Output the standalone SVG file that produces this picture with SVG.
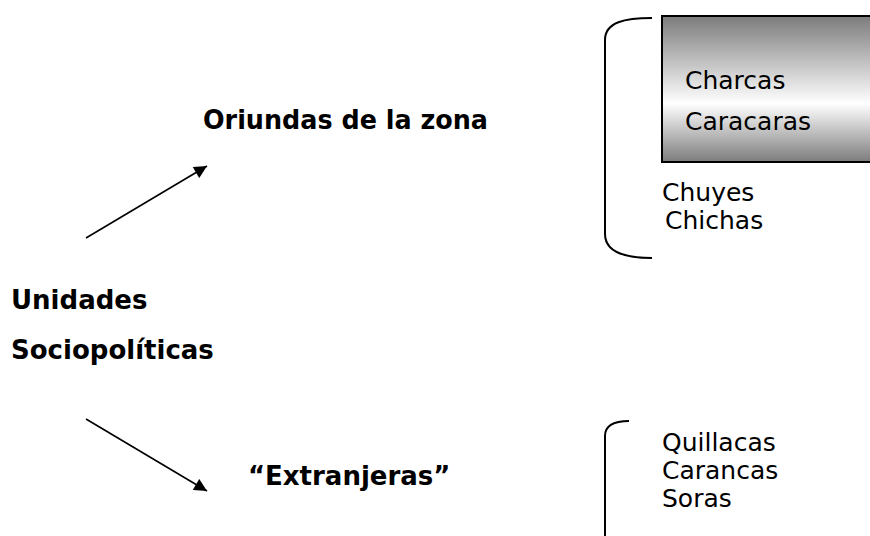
<svg xmlns="http://www.w3.org/2000/svg" width="870" height="536" viewBox="0 0 870 536">
<style>
.b{font-family:"DejaVu Sans","Liberation Sans",sans-serif;font-weight:bold;font-size:26px;fill:#000}
.r{font-family:"DejaVu Sans","Liberation Sans",sans-serif;font-size:25px;fill:#000}
.ln{stroke:#000;stroke-width:1.6;fill:none}
.br{stroke:#000;stroke-width:2;fill:none}
</style>
<defs>
<linearGradient id="g" x1="0" y1="0" x2="0" y2="1">
<stop offset="0" stop-color="#7c7c7c"/>
<stop offset="0.6" stop-color="#ffffff"/>
<stop offset="1" stop-color="#7c7c7c"/>
</linearGradient>
<marker id="ah" viewBox="0 0 10 10" refX="10" refY="5" markerWidth="9" markerHeight="8" markerUnits="strokeWidth" orient="auto">
<path d="M0,0 L10,5 L0,10 z" fill="#000"/>
</marker>
</defs>
<g id="connectors">
<line class="ln" x1="86" y1="238" x2="207" y2="166" marker-end="url(#ah)"/>
<line class="ln" x1="86" y1="419" x2="207" y2="491" marker-end="url(#ah)"/>
</g>
<g id="root">
<text class="b" x="11" y="309">Unidades</text>
<text class="b" x="11" y="359">Sociopolíticas</text>
</g>
<g id="oriundas">
<text class="b" x="203" y="129" textLength="285" lengthAdjust="spacingAndGlyphs">Oriundas de la zona</text>
</g>
<g id="extranjeras">
<text class="b" x="248" y="485">“Extranjeras”</text>
</g>
<g id="group-oriundas">
<path class="br" d="M652,18 C625,18 605,22 605,40 L605,234 C605,252 625,258 652,258"/>
<rect x="662" y="16" width="212" height="146" fill="url(#g)" stroke="#000" stroke-width="2"/>
<text class="r" x="685" y="89">Charcas</text>
<text class="r" x="685" y="130">Caracaras</text>
<text class="r" x="662" y="201">Chuyes</text>
<text class="r" x="665" y="229">Chichas</text>
</g>
<g id="group-extranjeras">
<path class="br" d="M629,421 C612,421 605,426 605,436 L605,540"/>
<text class="r" x="662" y="451">Quillacas</text>
<text class="r" x="662" y="479">Carancas</text>
<text class="r" x="662" y="507">Soras</text>
</g>
</svg>
